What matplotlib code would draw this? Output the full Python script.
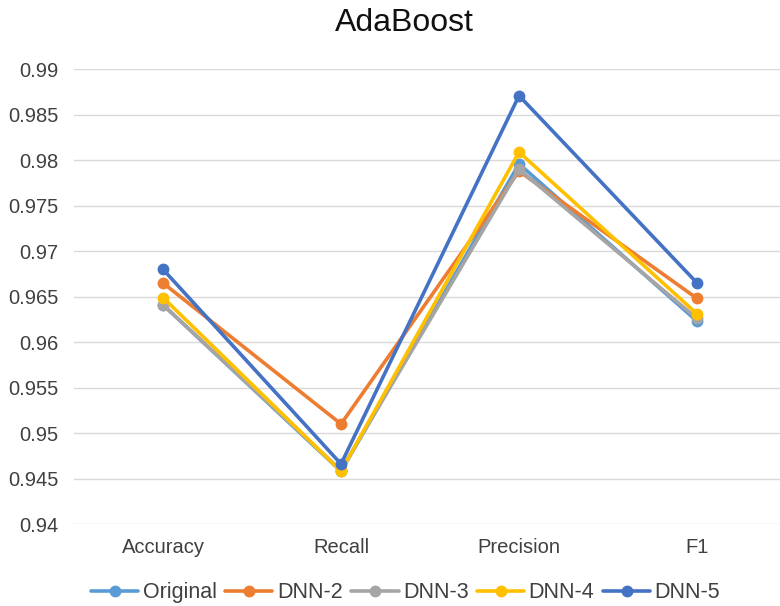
import matplotlib
matplotlib.use("Agg")
import matplotlib.pyplot as plt

plt.rcParams['font.family'] = ['Liberation Sans', 'DejaVu Sans']

categories = ["Accuracy", "Recall", "Precision", "F1"]
series_names = ["Original", "DNN-2", "DNN-3", "DNN-4", "DNN-5"]
original = [0.9641, 0.9458, 0.9796, 0.9623]
dnn2 = [0.9665, 0.9510, 0.9788, 0.9648]
dnn3 = [0.9641, 0.9459, 0.9790, 0.9626]
dnn4 = [0.9649, 0.9458, 0.9809, 0.9631]
dnn5 = [0.9680, 0.9466, 0.9871, 0.9665]
yticks = [0.94, 0.945, 0.95, 0.955, 0.96, 0.965, 0.97, 0.975, 0.98, 0.985, 0.99]
ytick_labels = ["0.94", "0.945", "0.95", "0.955", "0.96", "0.965", "0.97", "0.975", "0.98", "0.985", "0.99"]

colors = ["#5B9BD5", "#ED7D31", "#A5A5A5", "#FFC000", "#4472C4"]
data = [original, dnn2, dnn3, dnn4, dnn5]

fig = plt.figure(figsize=(7.8, 6.06), dpi=100)
ax = fig.add_axes([74/780, 82/606, 706/780, (524-69.3)/606])

x = list(range(len(categories)))
for name, vals, c in zip(series_names, data, colors):
    ax.plot(x, vals, color=c, lw=2.6, marker='o', markersize=7.5, label=name,
            solid_capstyle='round', solid_joinstyle='round')

ax.set_xlim(-0.5, 3.466)
ax.set_ylim(0.94, 0.99)
ax.set_yticks(yticks)
ax.set_yticklabels(ytick_labels)
ax.set_xticks(x)
ax.set_xticklabels(categories)
ax.grid(axis='y', color='#D9D9D9', lw=1)
ax.set_axisbelow(True)
for s in ax.spines.values():
    s.set_visible(False)
ax.tick_params(axis='both', length=0, labelsize=14.5, colors='#404040')
ax.tick_params(axis='y', pad=11)
ax.tick_params(axis='x', pad=10)

fig.text(0.518, 0.962, "AdaBoost", ha='center', va='center', fontsize=23, color='#111111')

leg = fig.legend(loc='center', bbox_to_anchor=(0.52, 0.022), ncol=5, frameon=False,
                 fontsize=15.5, handlelength=2.2, handletextpad=0.2, columnspacing=0.4,
                 labelcolor='#404040')

fig.savefig("out.png", dpi=100, facecolor='white')
